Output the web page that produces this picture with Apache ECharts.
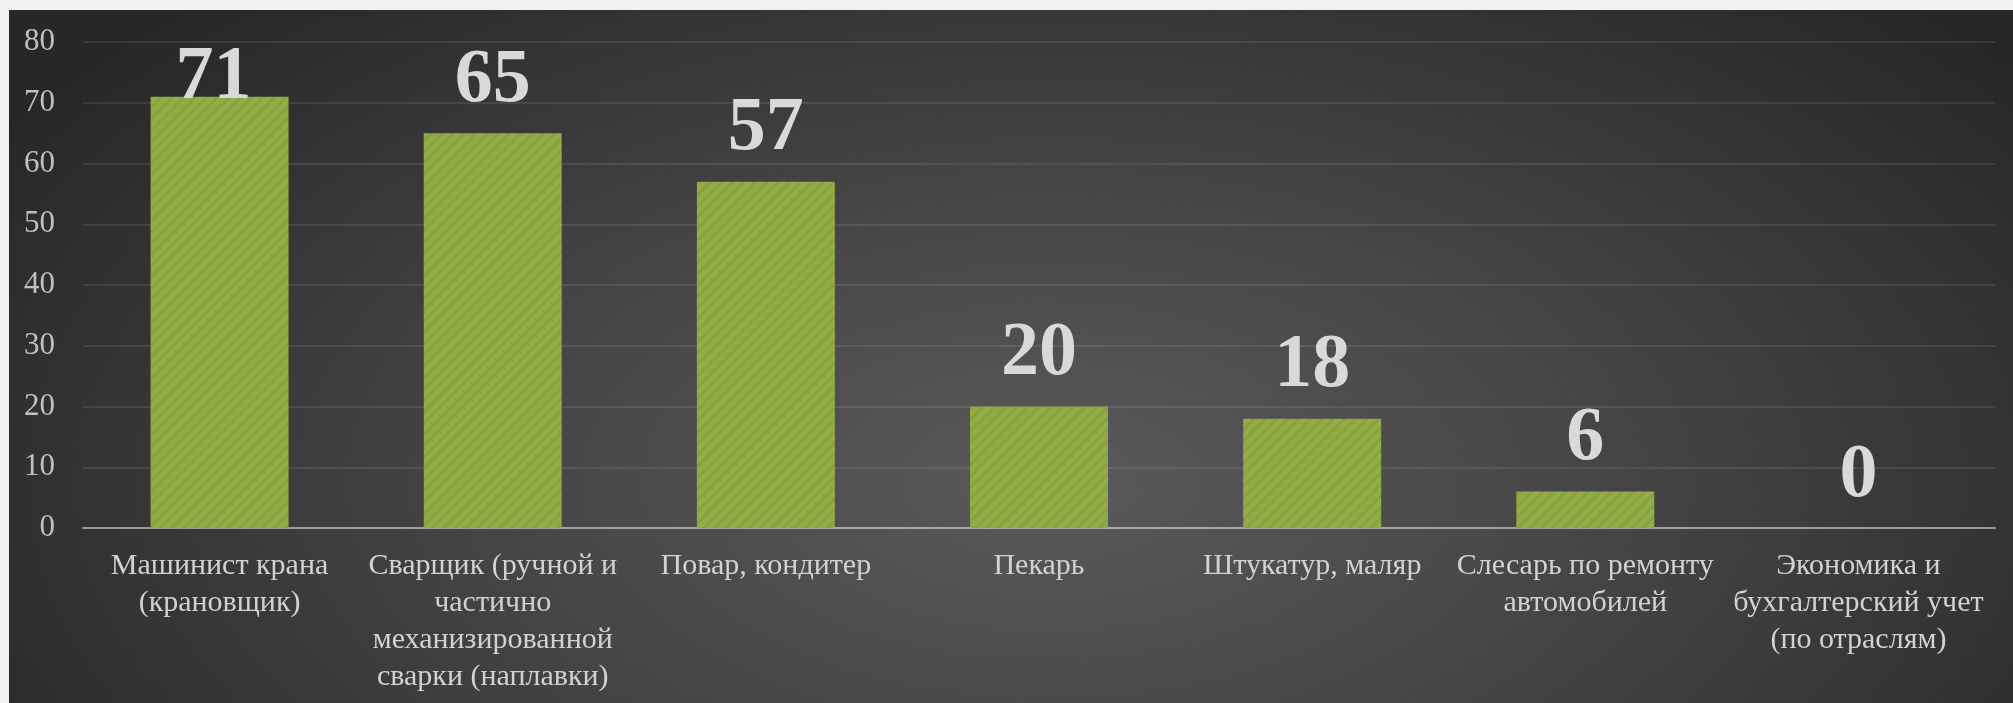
<!DOCTYPE html>
<html>
<head>
<meta charset="utf-8">
<script src="https://cdn.jsdelivr.net/npm/echarts@6/dist/echarts.min.js"></script>
<style>
  html, body { margin: 0; padding: 0; background: #f1f1f1; }
  #barChart {
    position: absolute;
    left: 9px;
    top: 10px;
    width: 2004px;
    height: 693px;
    background: radial-gradient(ellipse 62% 95% at 52% 68%, #5a5a5a 0%, #454545 45%, #272727 100%);
  }
</style>
</head>
<body>
<div id="barChart"></div>
<script>
// профессии и количество
const categories = [
  'Машинист крана\n(крановщик)',
  'Сварщик (ручной и\nчастично\nмеханизированной\nсварки (наплавки)',
  'Повар, кондитер',
  'Пекарь',
  'Штукатур, маляр',
  'Слесарь по ремонту\nавтомобилей',
  'Экономика и\nбухгалтерский учет\n(по отраслям)'
]
const values = [71, 65, 57, 20, 18, 6, 0]
const yTicks = [0, 10, 20, 30, 40, 50, 60, 70, 80]

const serif = '"Liberation Serif", "DejaVu Serif", serif'

const option = {
  backgroundColor: 'transparent',
  animation: false,
  grid: {
    left: 74,
    top: 32,
    right: 18,
    bottom: 175
  },
  xAxis: {
    type: 'category',
    data: categories,
    axisTick: { show: false },
    axisLine: {
      lineStyle: { color: 'rgba(255,255,255,0.45)', width: 2 }
    },
    axisLabel: {
      interval: 0,
      margin: 20,
      color: '#d2d2d2',
      fontFamily: serif,
      fontSize: 30,
      lineHeight: 37
    }
  },
  yAxis: {
    type: 'value',
    min: yTicks[0],
    max: yTicks[yTicks.length - 1],
    interval: yTicks[1] - yTicks[0],
    axisLine: { show: false },
    axisTick: { show: false },
    axisLabel: {
      margin: 28,
      color: '#c0c0c0',
      fontFamily: serif,
      fontSize: 31
    },
    splitLine: {
      lineStyle: { color: 'rgba(255,255,255,0.09)', width: 2 }
    }
  },
  series: [
    {
      type: 'bar',
      barWidth: '50.5%',
      data: values.map((v) => {
        // самая высокая подпись не помещается сверху — сдвигаем вниз
        const item = { value: v }
        if (v > 68) item.label = { offset: [-6, 34] }
        return item
      }),
      itemStyle: {
        color: '#93ad45',
        decal: {
          symbol: 'rect',
          symbolSize: 1,
          dashArrayX: [1, 0],
          dashArrayY: [3, 5],
          rotation: -Math.PI / 4,
          color: 'rgba(0,0,0,0.06)'
        }
      },
      label: {
        show: true,
        position: 'top',
        distance: 14,
        color: '#d9d9d9',
        fontFamily: serif,
        fontWeight: 'bold',
        fontSize: 76,
        lineHeight: 76
      }
    }
  ]
}

const myChart = echarts.init(document.getElementById('barChart'))
option && myChart.setOption(option)
</script>
</body>
</html>
